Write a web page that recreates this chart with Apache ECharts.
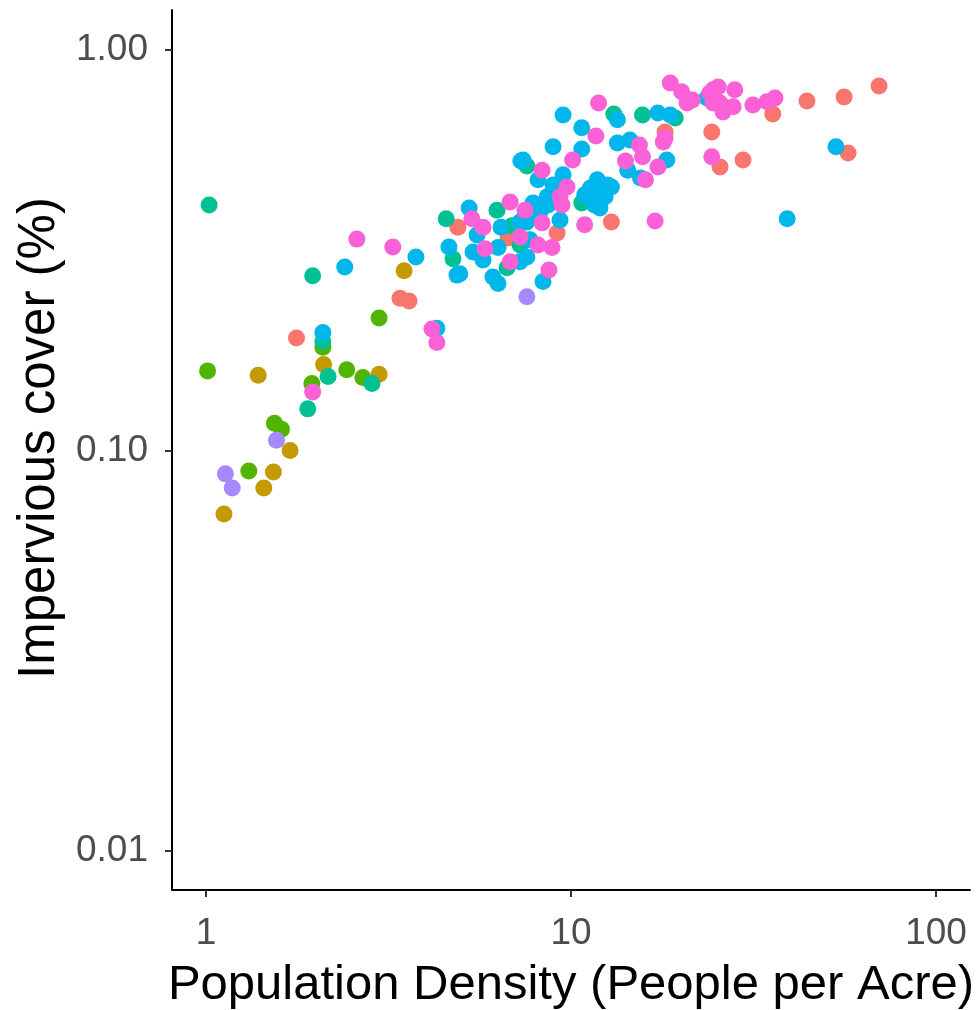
<!DOCTYPE html>
<html>
<head>
<meta charset="utf-8">
<script src="https://cdn.jsdelivr.net/npm/echarts@6/dist/echarts.min.js"></script>
<style>
  html, body { margin: 0; padding: 0; background: #ffffff; }
  #chart { width: 979px; height: 1010px; }
</style>
</head>
<body>
<div id="chart"></div>
<script>
// [population density (people per acre), impervious cover fraction]
const groupA = [[1.77,0.191],[3.40,0.240],[3.60,0.236],[4.90,0.361],[6.72,0.339],[9.16,0.349],[12.9,0.372],
  [18.1,0.624],[24.3,0.624],[25.6,0.510],[29.6,0.531],[35.7,0.692],[44.3,0.746],[56.0,0.763],[69.8,0.813],[57.4,0.553]];
const groupB = [[1.39,0.154],[2.10,0.164],[1.70,0.100],[1.53,0.0884],[1.44,0.0806],[1.12,0.0694],[3.49,0.281],[2.98,0.155]];
const groupC = [[1.01,0.158],[2.09,0.181],[2.43,0.159],[1.95,0.147],[1.54,0.117],[1.61,0.113],[1.31,0.0889],[2.69,0.152],[2.98,0.214]];
const groupD = [[1.02,0.410],[1.96,0.273],[2.09,0.187],[2.16,0.153],[1.90,0.127],[2.85,0.147],[4.75,0.301],[4.55,0.379],
  [6.27,0.398],[6.68,0.286],[7.25,0.326],[7.57,0.513],[10.7,0.415],[13.1,0.692],[15.7,0.688],[19.3,0.676],[6.89,0.364]];
const groupE = [[2.40,0.287],[2.09,0.197],[3.76,0.304],[4.63,0.322],[4.87,0.274],[4.29,0.202],[5.26,0.403],[5.53,0.345],
  [6.43,0.361],[7.25,0.372],[6.31,0.321],[5.39,0.313],[4.96,0.276],[5.74,0.299],[6.11,0.271],[6.31,0.261],[7.25,0.296],
  [7.29,0.528],[9.51,0.688],[13.4,0.669],[10.7,0.639],[8.93,0.573],[10.7,0.566],[13.4,0.586],[7.39,0.531],[8.12,0.474],
  [9.51,0.488],[8.93,0.460],[11.8,0.474],[12.6,0.460],[11.3,0.452],[8.60,0.430],[12.2,0.440],[7.87,0.415],[11.6,0.410],
  [12.4,0.430],[9.33,0.376],[7.57,0.372],[7.57,0.304],[8.38,0.264],[17.3,0.696],[18.7,0.688],[23.6,0.759],[14.5,0.596],
  [18.3,0.531],[14.3,0.501],[15.5,0.479],[12.9,0.455],[53.2,0.573],[39.1,0.379],[11.4,0.422],[12.0,0.403],[10.9,0.435],
  [8.22,0.394],[8.65,0.410],[7.72,0.336]];
const groupF = [[1.56,0.106],[1.13,0.0874],[1.18,0.0806],[7.57,0.242]];
const groupG = [[1.96,0.140],[2.59,0.337],[3.25,0.322],[4.16,0.201],[4.29,0.186],[5.35,0.379],[5.74,0.361],[6.81,0.417],
  [7.25,0.341],[5.81,0.319],[6.81,0.296],[11.9,0.737],[11.7,0.610],[10.1,0.531],[8.33,0.501],[9.75,0.455],[9.33,0.430],
  [9.45,0.410],[8.33,0.370],[10.9,0.366],[8.12,0.326],[8.87,0.321],[8.70,0.282],[18.7,0.827],[20.1,0.786],[21.5,0.750],
  [20.8,0.737],[24.5,0.795],[24.5,0.737],[18.1,0.603],[15.4,0.579],[14.1,0.528],[15.7,0.541],[17.3,0.510],[16.0,0.474],
  [24.3,0.541],[17.0,0.374],[25.3,0.808],[28.1,0.795],[24.0,0.781],[25.6,0.737],[27.8,0.721],[26.1,0.700],[31.5,0.729],
  [34.4,0.742],[36.2,0.759],[7.48,0.398],[17.9,0.589]];

const groups = [groupA, groupB, groupC, groupD, groupE, groupF, groupG];
const groupColors = ['#F8766D', '#C49A00', '#53B400', '#00C094', '#00B6EB', '#A58AFF', '#FB61D7'];

const xTicks = [1, 10, 100];
const yTicks = [0.01, 0.1, 1];
const xRange = [0.807, 123.9];
const yRange = [0.00799, 1.258];

const isTick = (v, list) => list.some(t => Math.abs(v - t) / t < 1e-6);

const chart = echarts.init(document.getElementById('chart'), null, { renderer: 'canvas' });

const axisCommon = {
  type: 'log',
  logBase: 10,
  nameLocation: 'middle',
  axisLine: { show: true, onZero: false, lineStyle: { color: '#000000', width: 2 } },
  axisTick: { show: true, inside: false, length: 7, lineStyle: { color: '#333333', width: 2 } },
  splitLine: { show: false },
  minorTick: { show: false },
  minorSplitLine: { show: false }
};

chart.setOption({
  backgroundColor: '#ffffff',
  animation: false,
  grid: { left: 172, top: 10, right: 9, bottom: 120, containLabel: false, outerBoundsMode: 'none' },
  xAxis: Object.assign({}, axisCommon, {
    name: 'Population Density (People per Acre)',
    nameGap: 71,
    nameTextStyle: { fontFamily: 'Liberation Sans', fontSize: 49, color: '#000000' },
    min: xRange[0],
    max: xRange[1],
    axisTick: Object.assign({}, axisCommon.axisTick, { customValues: xTicks }),
    axisLabel: {
      customValues: xTicks,
      margin: 25,
      fontFamily: 'Liberation Sans', fontSize: 37, color: '#4D4D4D',
      formatter: v => (isTick(v, xTicks) ? String(Math.round(v)) : '')
    }
  }),
  yAxis: Object.assign({}, axisCommon, {
    name: 'Impervious cover (%)',
    nameGap: 107,
    nameRotate: 90,
    nameTextStyle: { fontFamily: 'Liberation Sans', fontSize: 51, color: '#000000', padding: [0, 0, 0, 24] },
    min: yRange[0],
    max: yRange[1],
    axisTick: Object.assign({}, axisCommon.axisTick, { customValues: yTicks }),
    axisLabel: {
      customValues: yTicks,
      margin: 24,
      fontFamily: 'Liberation Sans', fontSize: 37, color: '#4D4D4D',
      formatter: v => (isTick(v, yTicks) ? v.toFixed(2) : '')
    }
  }),
  series: groups.map((g, i) => ({
    type: 'scatter',
    data: g,
    symbol: 'circle',
    symbolSize: 17,
    itemStyle: { color: groupColors[i], opacity: 1 },
    emphasis: { disabled: true }
  }))
});
</script>
</body>
</html>
